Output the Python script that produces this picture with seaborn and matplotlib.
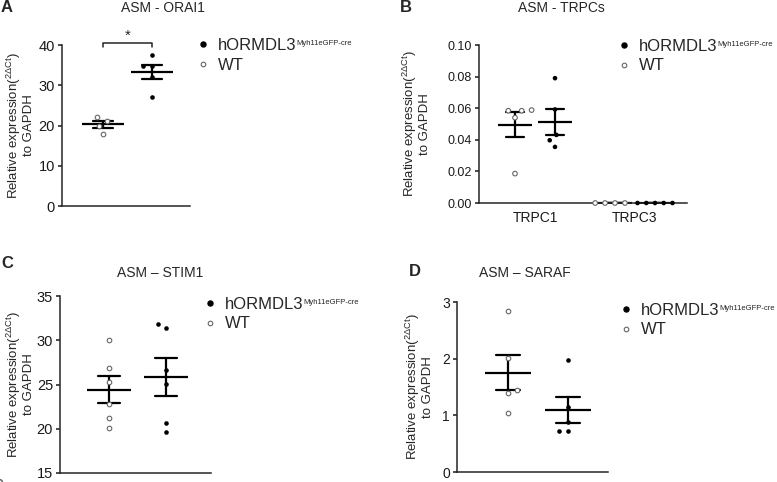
import matplotlib
matplotlib.use("Agg")
import pandas as pd
import seaborn as sns
from matplotlib import pyplot as plt
from matplotlib.lines import Line2D

# values
GROUPS = ["WT", "hORMDL3"]

orai1_wt = [21.2, 22.2, 19.9, 17.8]
orai1_tg = [37.5, 34.9, 34.9, 32.0, 27.1]

trpc_genes = ["TRPC1", "TRPC3"]
trpc1_wt = [0.0584, 0.0588, 0.0584, 0.0540, 0.0186]
trpc1_tg = [0.0790, 0.0592, 0.0431, 0.0397, 0.0355]
trpc3_wt = [0.0, 0.0, 0.0, 0.0]
trpc3_tg = [0.0, 0.0, 0.0, 0.0, 0.0]

stim1_wt = [30.0, 26.9, 25.3, 22.8, 21.2, 20.1]
stim1_tg = [31.4, 31.8, 26.6, 25.1, 20.6, 19.6]

saraf_wt = [2.85, 2.02, 1.45, 1.40, 1.05]
saraf_tg = [1.98, 1.15, 0.88, 0.73, 0.73]

TG_NAME = "hORMDL3"
TG_SUPER = "Myh11eGFP-cre"
YLABEL = "Relative expression($^{2\u0394Ct}$)\nto GAPDH"

W, H = 777, 482
SWARM_SIZE = 6.0   # spacing used while laying out the swarm
DOT_SIZE = 3.3     # size the dots are finally drawn with
POINT_STYLE = {
    "WT": dict(edgecolor="0.4", linewidth=0.8),
    "hORMDL3": dict(edgecolor="black", linewidth=0),
}
PALETTE = {"WT": "white", "hORMDL3": "black"}

sns.set_theme(style="ticks")
plt.rcParams["font.family"] = ["Liberation Sans", "DejaVu Sans"]
plt.rcParams["mathtext.fontset"] = "custom"
plt.rcParams["mathtext.rm"] = "Liberation Sans"
plt.rcParams["mathtext.default"] = "regular"
plt.rcParams["axes.edgecolor"] = "0.15"
plt.rcParams["axes.linewidth"] = 1.1

fig = plt.figure(figsize=(W / 100, H / 100), dpi=100)


def px(x, y):
    return x / W, 1 - y / H


def add_axes(left, top, right, bottom):
    return fig.add_axes([left / W, 1 - bottom / H, (right - left) / W, (bottom - top) / H])


def two_groups(wt, tg):
    return pd.DataFrame({"group": ["WT"] * len(wt) + ["hORMDL3"] * len(tg),
                         "value": wt + tg})


def dot_panel(ax, df, mean_width=30):
    for g in GROUPS:
        sns.swarmplot(data=df[df.group == g], x="group", y="value", order=GROUPS,
                      color=PALETTE[g], size=SWARM_SIZE, clip_on=False, zorder=3,
                      ax=ax, **POINT_STYLE[g])
    sns.pointplot(data=df, x="group", y="value", order=GROUPS, errorbar="se",
                  capsize=0.4, color="black", markers="_", markersize=mean_width,
                  markeredgewidth=1.6, linestyle="none", err_kws={"linewidth": 1.6},
                  ax=ax)


def style_axes(ax, ylim, yticks, label_x, tick_size):
    ax.set_ylim(*ylim)
    ax.set_yticks(yticks)
    ax.tick_params(axis="y", length=3, width=1.1, pad=2, labelsize=tick_size, colors="0.1")
    ax.set_ylabel(YLABEL, fontsize=9.5, linespacing=1.0)
    ax.yaxis.set_label_coords(label_x, 0.5)
    ax.set_xlabel("")
    sns.despine(ax=ax)


def legend(ax, x, y):
    handles = [
        Line2D([], [], marker="o", ls="none", mfc="black", mec="black", ms=DOT_SIZE + 0.3),
        Line2D([], [], marker="o", ls="none", mfc="white", mec="0.4", mew=0.8, ms=DOT_SIZE),
    ]
    return ax.legend(handles, [TG_NAME, "WT"], loc="upper left", bbox_to_anchor=px(x, y),
                     bbox_transform=fig.transFigure, frameon=False, fontsize=12,
                     borderpad=0, borderaxespad=0, handlelength=0.6, handletextpad=0.6,
                     labelspacing=0.27)


legends = []

# A - ORAI1
ax_a = add_axes(62, 45, 190, 206)
dot_panel(ax_a, two_groups(orai1_wt, orai1_tg))
ax_a.set_xlim(-0.84, 1.78)
ax_a.set_xticks([])
style_axes(ax_a, (0, 40), range(0, 41, 10), -0.21, 10.5)
# significance bracket between the two groups
ax_a.plot([0, 0, 1, 1], [39.6, 40.6, 40.6, 39.6], color="0.15", lw=1.1, clip_on=False)
ax_a.text(0.5, 40.5, "*", ha="center", va="bottom", fontsize=11)
legends.append(legend(ax_a, 198, 38))

# B - TRPCs
trpc = pd.DataFrame({
    "gene": ["TRPC1"] * (len(trpc1_wt) + len(trpc1_tg)) + ["TRPC3"] * (len(trpc3_wt) + len(trpc3_tg)),
    "group": ["WT"] * len(trpc1_wt) + ["hORMDL3"] * len(trpc1_tg)
             + ["WT"] * len(trpc3_wt) + ["hORMDL3"] * len(trpc3_tg),
    "value": trpc1_wt + trpc1_tg + trpc3_wt + trpc3_tg,
})
ax_b = add_axes(479, 45, 687, 203)
for g in GROUPS:
    sns.swarmplot(data=trpc[trpc.group == g], x="gene", y="value", hue="group",
                  hue_order=GROUPS, order=trpc_genes, palette=PALETTE, dodge=True,
                  size=SWARM_SIZE, clip_on=False, zorder=3, legend=False, ax=ax_b,
                  **POINT_STYLE[g])
sns.pointplot(data=trpc, x="gene", y="value", hue="group", hue_order=GROUPS,
              order=trpc_genes, palette={g: "black" for g in GROUPS}, dodge=0.4,
              errorbar="se", capsize=0.18, markers="_", markersize=24,
              markeredgewidth=1.6, linestyle="none", err_kws={"linewidth": 1.6},
              legend=False, ax=ax_b)
ax_b.set_xlim(-0.56, 1.52)
ax_b.tick_params(axis="x", length=0, pad=6, labelsize=10, colors="0.1")
style_axes(ax_b, (0, 0.10), [0, 0.02, 0.04, 0.06, 0.08, 0.10], -0.23, 9)
ax_b.set_yticklabels([f"{t:.2f}" for t in ax_b.get_yticks()])
legends.append(legend(ax_b, 619, 39))

# C - STIM1
ax_c = add_axes(60, 296, 211, 473)
dot_panel(ax_c, two_groups(stim1_wt, stim1_tg), mean_width=32)
ax_c.set_xlim(-0.86, 1.79)
ax_c.set_xticks([])
style_axes(ax_c, (15, 35), range(15, 36, 5), -0.165, 10.5)
legends.append(legend(ax_c, 205, 297))

# D - SARAF
ax_d = add_axes(457, 302, 608, 472)
dot_panel(ax_d, two_groups(saraf_wt, saraf_tg), mean_width=33)
ax_d.set_xlim(-0.85, 1.67)
ax_d.set_xticks([])
style_axes(ax_d, (0, 3), range(0, 4), -0.155, 10)
legends.append(legend(ax_d, 621, 303))

# titles and panel letters
for x, y, t in [(163, 8, "ASM - ORAI1"), (561, 8, "ASM - TRPCs"),
                (160, 273, "ASM \u2013 STIM1"), (525, 273, "ASM \u2013 SARAF")]:
    fig.text(*px(x, y), t, ha="center", va="center", fontsize=10)
for x, y, t in [(1, 8, "A"), (400, 8, "B"), (1, 263, "C"), (409, 272, "D")]:
    fig.text(*px(x, y), t, ha="left", va="center", fontsize=12, fontweight="bold")

# lay the swarms out with wider spacing, then draw the dots smaller in place
fig.canvas.draw()
for ax in (ax_a, ax_b, ax_c, ax_d):
    for coll in ax.collections:
        coll.__dict__.pop("draw", None)
        coll.set_sizes([DOT_SIZE ** 2])

# small superscript after the transgenic line name
for leg in legends:
    bb = leg.get_texts()[0].get_window_extent()
    fig.text(bb.x1 / W, (bb.y1 - 2) / H, TG_SUPER, ha="left", va="top", fontsize=5.5)

fig.savefig("out.png", dpi=100)
